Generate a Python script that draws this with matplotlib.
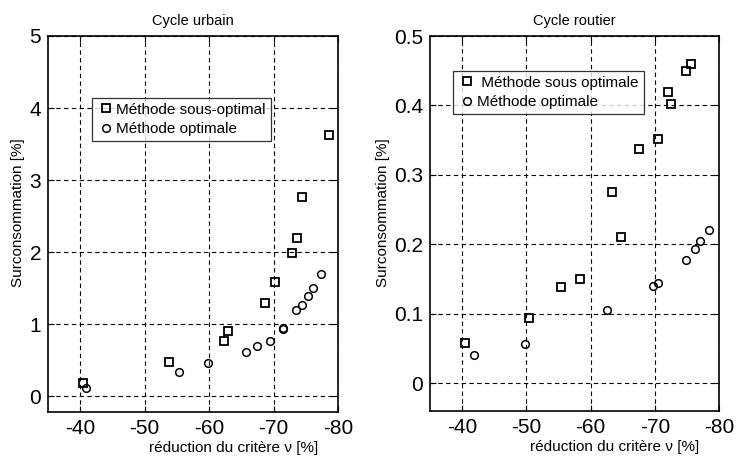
import matplotlib.pyplot as plt
from matplotlib.ticker import FormatStrFormatter

plt.rcParams['font.family'] = ['Liberation Sans', 'DejaVu Sans']
plt.rcParams['axes.unicode_minus'] = False

# Cycle urbain
urb_sous_x = [-40.4, -53.8, -62.3, -62.9, -68.7, -70.2, -72.8, -73.6, -74.4, -78.6]
urb_sous_y = [0.18, 0.47, 0.76, 0.90, 1.30, 1.58, 1.99, 2.19, 2.77, 3.63]
urb_opt_x = [-40.9, -55.3, -59.9, -65.7, -67.4, -69.4, -71.5, -71.5, -73.5, -74.4, -75.3, -76.1, -77.3]
urb_opt_y = [0.12, 0.33, 0.46, 0.61, 0.70, 0.76, 0.93, 0.95, 1.19, 1.27, 1.39, 1.50, 1.70]

# Cycle routier
rout_sous_x = [-40.4, -50.4, -55.4, -58.3, -63.4, -64.8, -67.6, -70.5, -72.0, -72.6, -74.8, -75.6]
rout_sous_y = [0.058, 0.094, 0.139, 0.150, 0.276, 0.210, 0.337, 0.352, 0.420, 0.402, 0.450, 0.460]
rout_opt_x = [-41.9, -49.8, -62.6, -69.7, -70.5, -74.8, -76.2, -77.0, -78.5]
rout_opt_y = [0.040, 0.057, 0.105, 0.140, 0.145, 0.178, 0.194, 0.205, 0.221]

xticks = [-40, -50, -60, -70, -80]


def draw_panel(ax, sx, sy, ox, oy, title, labels, ylim, yticks, legend_box):
    ax.plot(sx, sy, 's', ms=5.5, mfc='none', mec='black', mew=1.3, label=labels[0])
    ax.plot(ox, oy, 'o', ms=5.5, mfc='none', mec='black', mew=1.1, label=labels[1])
    ax.set_xlim(-35, -80)
    ax.set_ylim(*ylim)
    ax.set_xticks(xticks)
    ax.set_yticks(yticks)
    ax.yaxis.set_major_formatter(FormatStrFormatter('%g'))
    ax.grid(True, color='black', linestyle=(0, (4, 3)), linewidth=0.8)
    ax.tick_params(labelsize=15, direction='in', top=True, right=True, length=4, pad=5)
    ax.set_title(title, fontsize=10.5, pad=8)
    ax.set_xlabel('réduction du critère ν [%]', fontsize=11, labelpad=2)
    ax.xaxis.label.set_x(0.64)
    ax.set_ylabel('Surconsommation [%]', fontsize=11, labelpad=3)
    ax.yaxis.label.set_y(0.53)
    for sp in ax.spines.values():
        sp.set_linewidth(1.2)
    leg = ax.legend(loc='upper left', bbox_to_anchor=legend_box, fontsize=11,
                    frameon=True, fancybox=False, edgecolor='black',
                    handletextpad=0.1, handlelength=1.2, borderpad=0.3,
                    labelspacing=0.35, borderaxespad=0)
    leg.get_frame().set_linewidth(0.9)


fig = plt.figure(figsize=(7.39, 4.59), dpi=100)
ax1 = fig.add_axes([48 / 739, 47 / 459, 290 / 739, 376 / 459])
ax2 = fig.add_axes([430 / 739, 48 / 459, 289 / 739, 375 / 459])

draw_panel(ax1, urb_sous_x, urb_sous_y, urb_opt_x, urb_opt_y, 'Cycle urbain',
           ['Méthode sous-optimal', 'Méthode optimale'], (-0.22, 5), [0, 1, 2, 3, 4, 5],
           (44 / 290, 1 - 62 / 376))
draw_panel(ax2, rout_sous_x, rout_sous_y, rout_opt_x, rout_opt_y, 'Cycle routier',
           [' Méthode sous optimale', 'Méthode optimale'], (-0.04, 0.5),
           [0, 0.1, 0.2, 0.3, 0.4, 0.5], (23 / 289, 1 - 35 / 375))

fig.savefig('out.png', dpi=100)
